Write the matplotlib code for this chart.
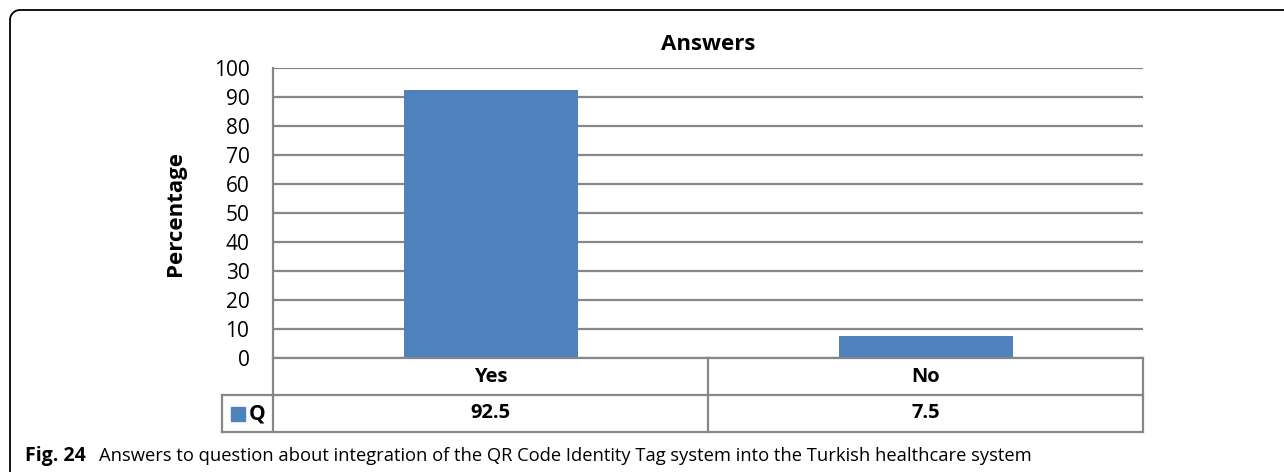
import numpy as np
import matplotlib
matplotlib.use("Agg")
import matplotlib.pyplot as plt
from matplotlib.lines import Line2D
from matplotlib.transforms import IdentityTransform, blended_transform_factory

categories = ["Yes", "No"]
values = [92.5, 7.5]
series_name = "Q"
value_labels = ["92.5", "7.5"]
yticks = list(range(0, 101, 10))
title = "Answers"
ylabel = "Percentage"
caption_bold = "Fig. 24"
caption_text = "Answers to question about integration of the QR Code Identity Tag system into the Turkish healthcare system"

plt.rcParams['font.family'] = ['Open Sans', 'DejaVu Sans']

W, H = 1284, 472
fig = plt.figure(figsize=(W / 100, H / 100), dpi=100)
fig.patch.set_facecolor("white")

ax = fig.add_axes([273 / W, 1 - 358 / H, (1143 - 273) / W, (358 - 68) / H])
bar_color = "#4F81BD"
grid_color = "#878787"
x = np.arange(len(categories))
ax.bar(x, values, width=0.4, color=bar_color, zorder=3)
ax.set_xlim(-0.5, len(categories) - 0.5)
ax.set_ylim(0, 100)
ax.set_yticks(yticks)
ax.set_yticklabels([str(t) for t in yticks], fontsize=15)
ax.tick_params(axis='y', length=0, pad=17)
ax.set_xticks([])
ax.yaxis.grid(True, color=grid_color, linewidth=1.6, zorder=0)
for s in ["top", "right", "bottom"]:
    ax.spines[s].set_visible(False)
ax.spines["left"].set_color(grid_color)
ax.spines["left"].set_linewidth(1.6)
ax.set_title(title, fontsize=16, fontweight="bold", pad=13)
ax.set_ylabel(ylabel, fontsize=16, fontweight="bold", labelpad=20)

# data table below axes
tr = blended_transform_factory(ax.transData, ax.transAxes)
rh = 37 / 290.0
x0 = -0.5 - 51 / 435.0
xl, xr = -0.5, len(categories) - 0.5
lw = 1.6
def line(xs, ys):
    ax.add_line(Line2D(xs, ys, transform=tr, color=grid_color, linewidth=lw,
                       clip_on=False, zorder=4))
line([xl, xr], [0, 0])
line([xl, xr], [-rh, -rh])
line([x0, xl], [-rh, -rh])
line([x0, xr], [-2 * rh, -2 * rh])
line([x0, x0], [-rh, -2 * rh])
line([xl, xl], [0, -2 * rh])
for i in range(1, len(categories)):
    line([i - 0.5, i - 0.5], [0, -2 * rh])
line([xr, xr], [0, -2 * rh])
for i, (c, v) in enumerate(zip(categories, value_labels)):
    ax.text(i, -0.5 * rh, c, transform=tr, ha="center", va="center",
            fontsize=14.5, fontweight="bold")
    ax.text(i, -1.5 * rh, v, transform=tr, ha="center", va="center",
            fontsize=14.5, fontweight="bold")
# legend key
fig.patches.append(matplotlib.patches.Rectangle((231, H - 421), 14, 14,
                   transform=IdentityTransform(), color=bar_color))
fig.text(249 / W, 1 - 414 / H, series_name, ha="left", va="center",
         fontsize=15, fontweight="bold")

# caption
fig.text(25 / W, 1 - 456 / H, caption_bold, ha="left", va="center",
         fontsize=14, fontweight="bold")
fig.text(99 / W, 1 - 456 / H, caption_text, ha="left", va="center",
         fontsize=13.2)

# rounded frame (top-left corner)
r = 10
t = np.linspace(np.pi, np.pi / 2, 20)
cx, cy = 10 + r, H - 10 - r
px = np.concatenate([[10], cx + r * np.cos(t), [W + 20]])
py = np.concatenate([[-20], cy + r * np.sin(t), [H - 10]])
fig.lines.append(Line2D(px, py, transform=IdentityTransform(), color="black",
                        linewidth=1.3))

fig.savefig("out.png", dpi=100)
